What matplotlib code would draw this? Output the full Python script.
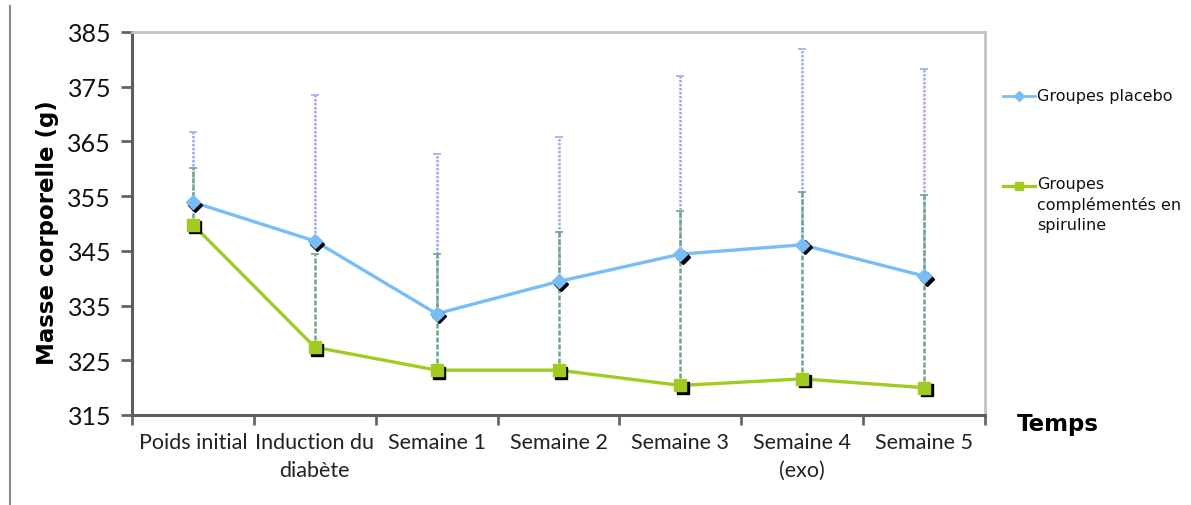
import matplotlib
matplotlib.use("Agg")
import matplotlib.pyplot as plt
from matplotlib.lines import Line2D
from matplotlib.transforms import offset_copy
import numpy as np

categories = ["Poids initial", "Induction du\ndiabète", "Semaine 1", "Semaine 2",
              "Semaine 3", "Semaine 4\n(exo)", "Semaine 5"]
placebo = [353.9, 346.8, 333.5, 339.4, 344.4, 346.1, 340.4]
placebo_top = [366.7, 373.4, 362.7, 365.8, 377.0, 381.9, 378.2]
spiruline = [349.8, 327.4, 323.2, 323.2, 320.4, 321.6, 320.0]
spiruline_top = [360.1, 344.4, 344.4, 348.5, 352.2, 355.7, 355.2]
yticks = [315, 325, 335, 345, 355, 365, 375, 385]

blue = "#79bdf7"
green = "#a2cb22"
blue_err = "#9fa9f2"
green_err = "#6ca884"

fig = plt.figure(figsize=(11.91, 5.06), dpi=100)
ax = fig.add_axes([132 / 1191, 90 / 506, 853 / 1191, 383 / 506])

x = np.arange(len(categories))
p_err = np.array(placebo_top) - np.array(placebo)
s_err = np.array(spiruline_top) - np.array(spiruline)

# error bars (upper side only, like the original)
eb = ax.errorbar(x, placebo, yerr=[np.zeros_like(p_err), p_err], fmt="none",
                 ecolor=blue_err, elinewidth=1.8, capsize=3, capthick=1.2, zorder=2)
eb[2][0].set_linestyle((0, (1, 0.6)))
eb = ax.errorbar(x, spiruline, yerr=[np.zeros_like(s_err), s_err], fmt="none",
                 ecolor=green_err, elinewidth=1.8, capsize=3, capthick=1.2, zorder=3)
eb[2][0].set_linestyle((0, (2, 0.8)))

# shadows of the markers
shadow = offset_copy(ax.transData, fig=fig, x=2.5, y=-2.5, units="dots")
ax.plot(x, placebo, linestyle="none", marker="D", markersize=7, color="black",
        transform=shadow, zorder=4)
ax.plot(x, spiruline, linestyle="none", marker="s", markersize=9, color="black",
        transform=shadow, zorder=4)

ax.plot(x, placebo, color=blue, linewidth=2.4, zorder=3.5)
ax.plot(x, spiruline, color=green, linewidth=2.4, zorder=3.5)
ax.plot(x, placebo, linestyle="none", marker="D", markersize=7, color=blue, zorder=5)
ax.plot(x, spiruline, linestyle="none", marker="s", markersize=9, color=green, zorder=5)

ax.set_xlim(-0.5, len(categories) - 0.5)
ax.set_ylim(315, 385)
ax.set_yticks(yticks)
ax.set_yticklabels([str(v) for v in yticks], fontfamily="Lato", fontsize=18)
ax.set_xticks(x)
ax.set_xticklabels(categories, fontfamily="Lato", fontsize=15.5, linespacing=1.5)
ax.set_xticks(np.arange(-0.5, len(categories)), minor=True)
ax.tick_params(axis="x", which="major", length=0, pad=12, colors="#222222")
ax.tick_params(axis="x", which="minor", length=7, width=2, color="#666666")
ax.tick_params(axis="y", length=8, width=2, color="#666666", pad=7, labelcolor="#111111")

for side in ["left", "bottom"]:
    ax.spines[side].set_color("#5e5e5e")
    ax.spines[side].set_linewidth(2.2)
for side in ["top", "right"]:
    ax.spines[side].set_color("#c4c4c4")
    ax.spines[side].set_linewidth(2)

ax.set_ylabel("Masse corporelle (g)", fontfamily="DejaVu Sans", fontweight="bold",
              fontsize=16.5)
ax.yaxis.set_label_coords(-0.086, 0.48)
fig.text(1017 / 1191, 1 - 425 / 506, "Temps", fontfamily="DejaVu Sans",
         fontweight="bold", fontsize=16.5, va="center", ha="left")

# legend drawn by hand to follow the original layout
fig.add_artist(Line2D([1003 / 1191, 1035 / 1191], [1 - 97 / 506] * 2, color=blue,
                      linewidth=2))
fig.add_artist(Line2D([1019 / 1191], [1 - 97 / 506], color=blue, marker="D", markersize=5))
fig.text(1037 / 1191, 1 - 97 / 506, "Groupes placebo", fontfamily="DejaVu Sans",
         fontsize=11.5, va="center", ha="left", color="#111111")
fig.add_artist(Line2D([1003 / 1191, 1035 / 1191], [1 - 187 / 506] * 2, color=green,
                      linewidth=2.4))
fig.add_artist(Line2D([1019 / 1191], [1 - 187 / 506], color=green, marker="s", markersize=6))
fig.text(1037 / 1191, 1 - 177 / 506, "Groupes\ncomplémentés en\nspiruline",
         fontfamily="DejaVu Sans", fontsize=11.5, va="top", ha="left",
         color="#111111", linespacing=1.4)

# outer frame line on the left
fig.add_artist(Line2D([10 / 1191, 10 / 1191], [0, 1 - 7 / 506], color="#8a8a8a", linewidth=1.5))

fig.savefig("out.png", dpi=100)
